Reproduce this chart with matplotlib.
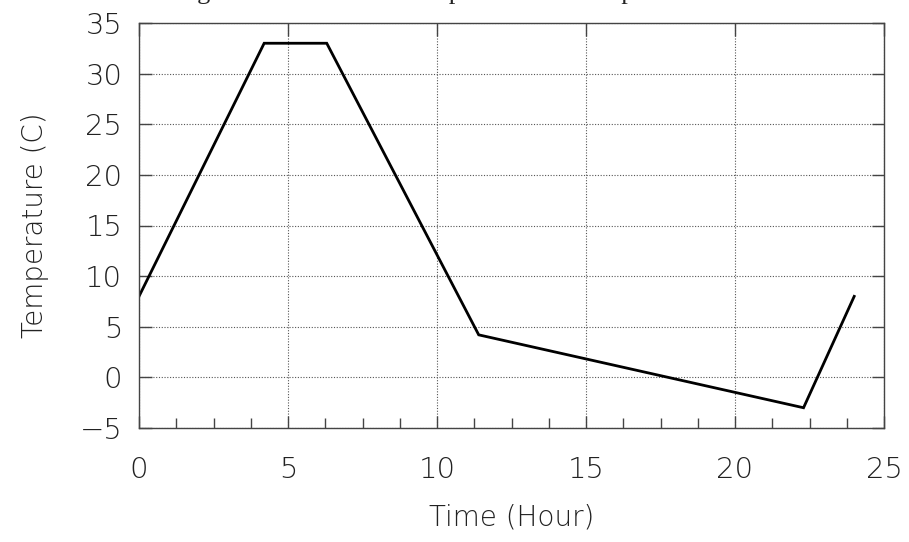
import matplotlib
matplotlib.use("Agg")
import matplotlib.pyplot as plt
from matplotlib.ticker import MultipleLocator

# Ambient air temperature cycle over one day
hours = [0, 4.2, 6.3, 11.4, 22.3, 24]
temperature = [8, 33, 33, 4.2, -3, 8]

x_ticks = [0, 5, 10, 15, 20, 25]
y_ticks = [-5, 0, 5, 10, 15, 20, 25, 30, 35]

title_text = "Figure 3  Ambient air temperature to be input"
x_label = "Time (Hour)"
y_label = "Temperature (C)"

plt.rcParams["font.family"] = ["DejaVu Sans"]
plt.rcParams["axes.unicode_minus"] = True

fig = plt.figure(figsize=(9.09, 5.42), dpi=100)
ax = fig.add_axes([139 / 909, 1 - 428 / 542, 745 / 909, 405 / 542])

ax.plot(hours, temperature, color="black", linewidth=2.0, solid_joinstyle="miter")

ax.set_xlim(0, 25)
ax.set_ylim(-5, 35)
ax.set_xticks(x_ticks)
ax.set_yticks(y_ticks)
ax.xaxis.set_minor_locator(MultipleLocator(1.25))

ax.grid(True, which="major", linestyle=(0, (1, 1.5)), linewidth=0.8, color="#555555")

for s in ax.spines.values():
    s.set_linewidth(1.0)
    s.set_color("#444444")

ax.tick_params(which="major", direction="in", length=9, width=1.0, color="#444444",
               top=True, right=True, labelsize=21, pad=12)
ax.tick_params(axis="x", which="major", pad=20)
ax.tick_params(which="minor", direction="in", length=7, width=1.0, color="#444444",
               top=False, right=False)
ax.tick_params(axis="y", which="minor", left=False)

for lbl in ax.get_xticklabels() + ax.get_yticklabels():
    lbl.set_fontweight("light")
    lbl.set_color("#222222")

ax.set_xlabel(x_label, fontsize=20, fontweight="light", color="#222222", labelpad=14)
ax.set_ylabel(y_label, fontsize=20, fontweight="light", color="#222222", labelpad=22)

# Caption sits above the top edge, so only its descenders reach the canvas
fig.text(175 / 909, 1 + 1 / 542, title_text, family="Liberation Serif", fontsize=19,
         ha="left", va="baseline", color="#222222")

fig.savefig("out.png", dpi=100)
